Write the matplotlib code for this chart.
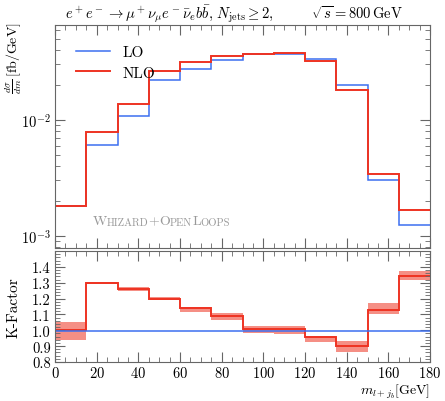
import numpy as np
import matplotlib
matplotlib.use("Agg")
import matplotlib.pyplot as plt
from matplotlib.ticker import MultipleLocator, LogLocator, NullFormatter

plt.rcParams['font.family'] = 'serif'
plt.rcParams['font.serif'] = ['cmr10']
plt.rcParams['mathtext.fontset'] = 'cm'
plt.rcParams['axes.unicode_minus'] = False
plt.rcParams['axes.formatter.use_mathtext'] = True

# bin edges in m_{l+j_b} [GeV]
edges = [0, 15, 30, 45, 60, 75, 90, 105, 120, 135, 150, 165, 180]
# d sigma / dm [fb/GeV]
lo  = [1.80e-3, 6.1e-3, 1.07e-2, 2.19e-2, 2.77e-2, 3.30e-2, 3.67e-2, 3.72e-2, 3.34e-2, 2.00e-2, 3.02e-3, 1.24e-3]
nlo = [1.80e-3, 7.9e-3, 1.36e-2, 2.63e-2, 3.16e-2, 3.58e-2, 3.71e-2, 3.76e-2, 3.19e-2, 1.82e-2, 3.42e-3, 1.68e-3]
# K-factor and its band
kfac = [1.00, 1.30, 1.26, 1.20, 1.14, 1.09, 1.01, 1.01, 0.955, 0.90, 1.125, 1.34]
k_lo = [0.94, 1.29, 1.25, 1.19, 1.115, 1.065, 0.98, 0.975, 0.925, 0.86, 1.10, 1.32]
k_hi = [1.05, 1.305, 1.275, 1.21, 1.145, 1.11, 1.03, 1.025, 0.965, 0.935, 1.175, 1.375]

blue = '#3c6ff0'
red = '#ee3322'
grey = '#666666'

fig = plt.figure(figsize=(4.45, 4.02), dpi=100)
ax1 = fig.add_axes([0.1236, 0.381, 0.843, 0.5547])
ax2 = fig.add_axes([0.1236, 0.097, 0.843, 0.276])

# top panel
nlo_a = np.array(nlo)
rel_lo = np.array(k_lo) / np.array(kfac)
rel_hi = np.array(k_hi) / np.array(kfac)
band_lo = nlo_a * (1 - (1 - rel_lo) * 0.35)
band_hi = nlo_a * (1 + (rel_hi - 1) * 0.35)
ax1.stairs(band_hi, edges, baseline=band_lo, fill=True, color=red, alpha=0.45, lw=0)
ax1.stairs(lo, edges, color=blue, lw=1.1, label='LO', baseline=None)
ax1.stairs(nlo, edges, color=red, lw=1.4, label='NLO', baseline=None)
ax1.set_yscale('log')
ax1.set_ylim(7.88e-4, 0.0659)
ax1.set_xlim(0, 180)
ax1.yaxis.set_major_locator(LogLocator(base=10, numticks=10))
ax1.yaxis.set_minor_locator(LogLocator(base=10, subs=np.arange(2, 10), numticks=10))
ax1.yaxis.set_minor_formatter(NullFormatter())
ax1.set_xticklabels([])
fig.text(0.03, 0.855, r'$\frac{d\sigma}{dm}\,[\mathrm{fb/GeV}]$', fontsize=10,
         rotation=90, ha='center', va='center')
ax1.legend(loc='upper left', frameon=False, fontsize=11, handlelength=2.2,
           bbox_to_anchor=(0.02, 0.97), labelspacing=0.45)

# small caps label
t = ax1.text(0.1, 0.105, 'W', fontsize=10, transform=ax1.transAxes, color='#999999', va='baseline')
for s, big in [('HIZARD', False), ('+', True), ('O', True), ('PEN', False), ('L', True), ('OOPS', False)]:
    t = ax1.annotate(s, xy=(1, 0), xycoords=t, fontsize=10 if big else 7.6,
                     ha='left', va='bottom', color='#999999')

# bottom panel
ax2.stairs(k_hi, edges, baseline=k_lo, fill=True, color=red, alpha=0.55, lw=0)
ax2.axhline(0.995, color=blue, lw=1.1)
ax2.stairs(kfac, edges, color=red, lw=1.4, baseline=None)
ax2.set_xlim(0, 180)
ax2.set_ylim(0.8, 1.5)
ax2.set_yticks([0.8, 0.9, 1.0, 1.1, 1.2, 1.3, 1.4])
ax2.set_yticklabels(['0.8', '0.9', '1.0', '1.1', '1.2', '1.3', '1.4'])
ax2.yaxis.set_minor_locator(MultipleLocator(0.02))
fig.text(0.03, 0.235, 'K-Factor', fontsize=11, rotation=90, ha='center', va='center')
fig.text(0.966, 0.003, r'$m_{l+j_b}$[GeV]', fontsize=10, ha='right', va='bottom')

for ax in (ax1, ax2):
    ax.xaxis.set_major_locator(MultipleLocator(20))
    ax.xaxis.set_minor_locator(MultipleLocator(5))
    ax.tick_params(which='both', direction='in', top=True, right=True, colors=grey,
                   labelcolor='black', labelsize=10.5, pad=3)
    ax.tick_params(which='major', length=7)
    ax.tick_params(which='minor', length=3.5)
    for sp in ax.spines.values():
        sp.set_color(grey)
ax2.tick_params(axis='x', pad=2)

fig.text(0.146, 0.965, r'$e^+e^- \to \mu^+\nu_\mu e^-\bar{\nu}_e b\bar{b}$, $N_{\rm jets} \geq 2$,'
         r'        $\sqrt{s} = 800\,\mathrm{GeV}$', fontsize=10.5, ha='left', va='center')

fig.savefig('out.png', dpi=100)
